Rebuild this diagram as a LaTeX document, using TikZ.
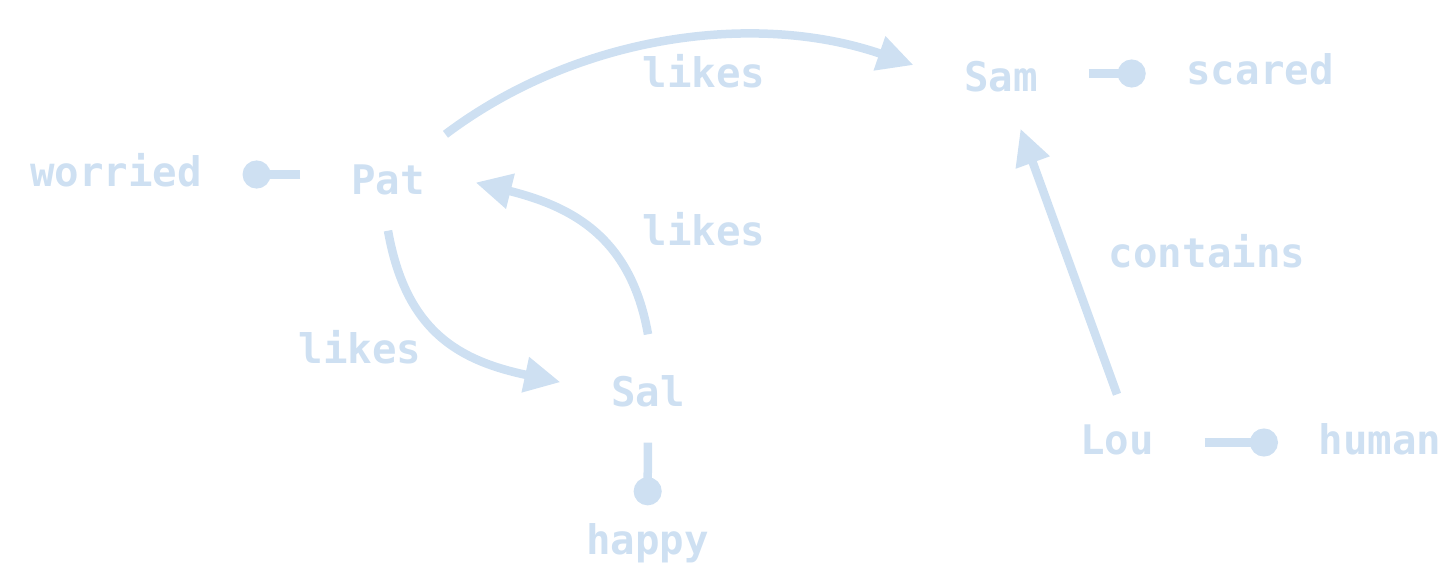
\documentclass[tikz,border=0pt]{standalone}
\usepackage{fontspec}
\newfontfamily\graphfont{DejaVu Sans Mono}
\usetikzlibrary{arrows.meta}
\definecolor{pale}{RGB}{206,224,242}
\begin{document}
\begin{tikzpicture}[
	every node/.style={text=pale,anchor=base,font=\graphfont\bfseries\fontsize{11.6pt}{14pt}\selectfont,text height=0.31cm,text depth=0.08cm},
	ent/.style={inner xsep=0.5cm,inner ysep=0.28cm},
	attr/.style={inner xsep=0.4cm,inner ysep=0.17cm},
	rel/.style={pale,line width=0.085cm,-{Triangle[length=0.36cm,width=0.34cm]}},
	prop/.style={pale,line width=0.085cm,-{Circle[length=0.28cm]}}]
	\useasboundingbox (0,0) rectangle (14.56,-5.66);
	\node[ent] (pat) at (3.88,-1.94) {Pat};
	\node[ent] (sam) at (10.01,-0.92) {Sam};
	\node[ent] (sal) at (6.48,-4.06) {Sal};
	\node[ent] (lou) at (11.17,-4.54) {Lou};
	\node[attr] (worried) at (1.16,-1.86) {worried};
	\node[attr] (scared) at (12.60,-0.85) {scared};
	\node[attr] (happy) at (6.475,-5.54) {happy};
	\node[attr] (human) at (13.80,-4.54) {human};
	\node (lk1) at (7.04,-0.88) {likes};
	\node (lk2) at (7.04,-2.45) {likes};
	\node (lk3) at (3.60,-3.63) {likes};
	\node (cnt) at (12.07,-2.67) {contains};
	\draw[rel] (pat.40) to[out=37,in=161,looseness=0.9] (sam.170);
	\draw[rel] ([yshift=0.12cm]sal.north) to[out=100,in=-14,looseness=1.1] (pat.east);
	\draw[rel] (pat.south) to[out=-80,in=168,looseness=1.15] (sal.172);
	\draw[rel] (lou.north) -- (sam.-68);
	\draw[prop] (pat.west |- worried.east) -- (worried.east);
	\draw[prop] (sam.east |- scared.west) -- (scared.west);
	\draw[prop] (sal) -- (happy);
	\draw[prop] (lou) -- (human);
\end{tikzpicture}
\end{document}
